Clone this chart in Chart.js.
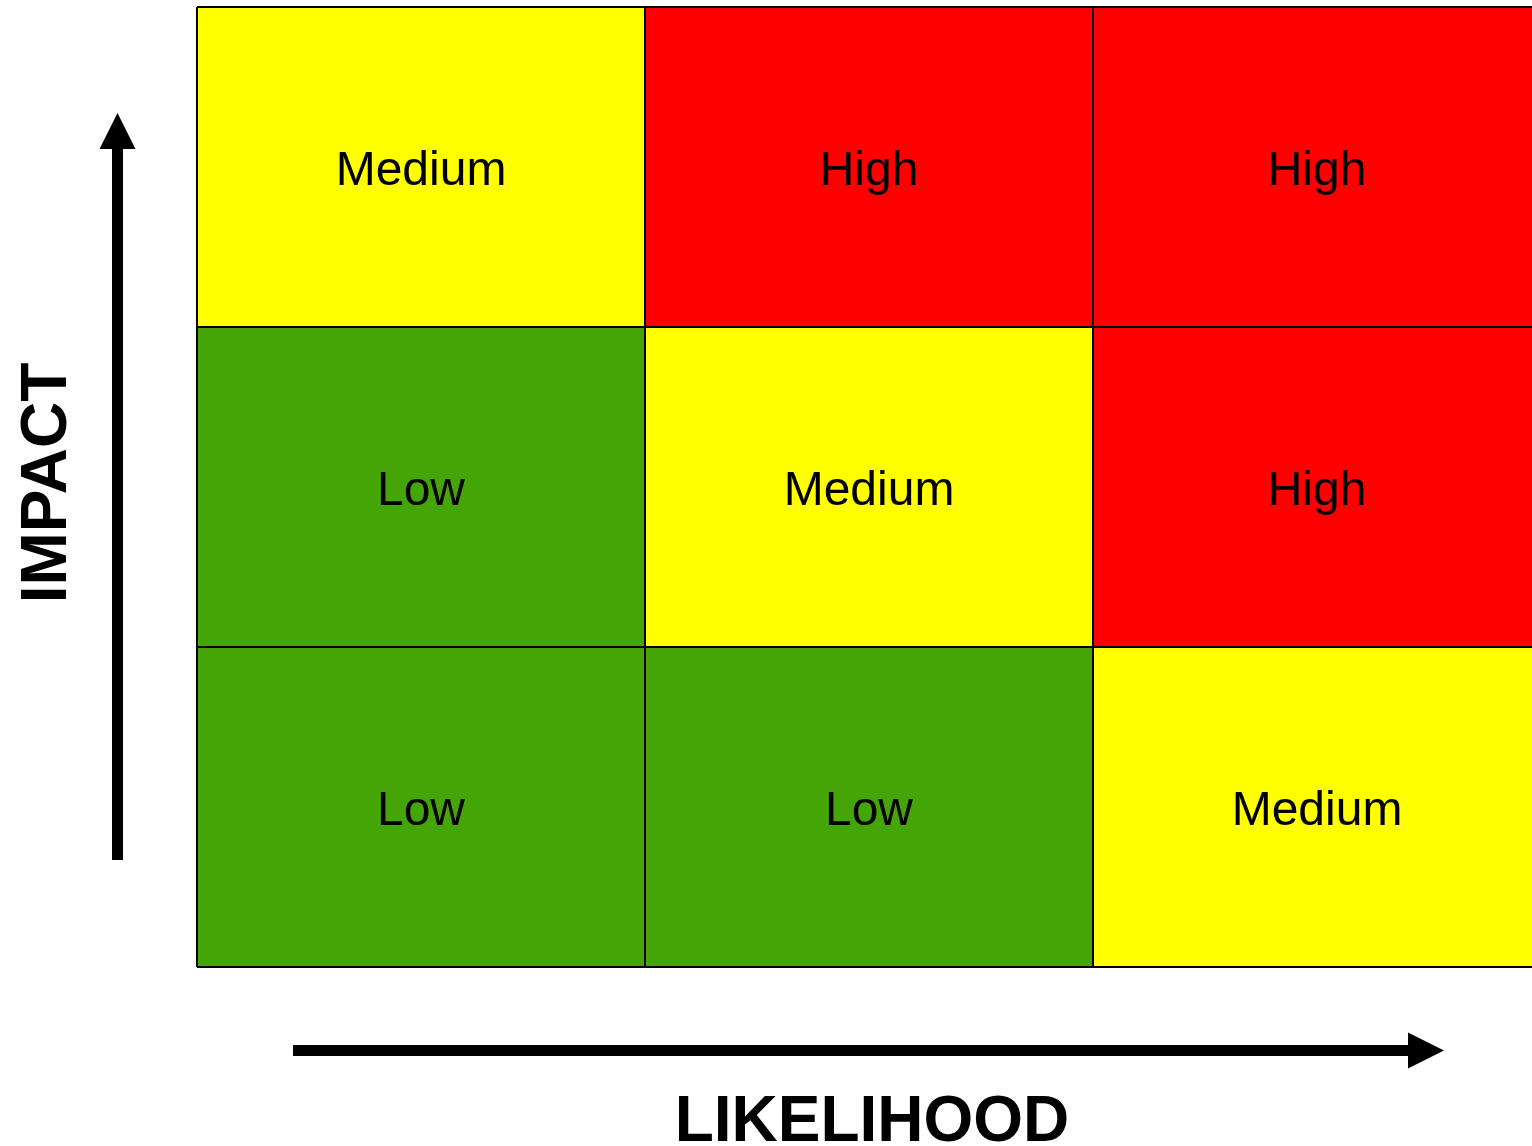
<!DOCTYPE html>
<html>
<head>
<meta charset="utf-8">
<script src="https://cdn.jsdelivr.net/npm/chart.js@4"></script>
<style>
  html, body { margin: 0; padding: 0; background: #fff; overflow: hidden; }
  #wrap { width: 1545px; height: 1146px; }
</style>
</head>
<body>
<div id="wrap"><canvas id="riskChart" width="1545" height="1146"></canvas></div>
<script>
// 矩陣資料
const likelihood = ['Low', 'Medium', 'High'];
const rowBottom = ['Low', 'Low', 'Medium'];
const rowMiddle = ['Low', 'Medium', 'High'];
const rowTop = ['Medium', 'High', 'High'];
const cellSize = [1, 1, 1];

const levelColors = { Low: '#45a507', Medium: '#ffff00', High: '#ff0000' };

// 格子文字
const cellLabels = {
    id: 'cellLabels',
    afterDraw(chart) {
        const ctx = chart.ctx;
        ctx.save();
        ctx.fillStyle = '#000';
        ctx.font = '48px "Liberation Sans", Arial, sans-serif';
        ctx.textAlign = 'center';
        ctx.textBaseline = 'middle';
        chart.data.datasets.forEach((ds, i) => {
            chart.getDatasetMeta(i).data.forEach((bar, j) => {
                ctx.fillText(ds.labels[j], bar.x, (bar.y + bar.base) / 2 + 5);
            });
        });
        ctx.restore();
    }
};

// 箭頭和軸標題
const axisArrows = {
    id: 'axisArrows',
    afterDraw(chart) {
        const ctx = chart.ctx;
        const area = chart.chartArea;
        ctx.save();
        ctx.fillStyle = '#000';

        // 垂直箭頭
        const vx = area.left - 79.5;
        ctx.fillRect(vx - 5.5, area.top + 141, 11, area.bottom - 107 - (area.top + 141));
        ctx.beginPath();
        ctx.moveTo(vx, area.top + 106);
        ctx.lineTo(vx + 18, area.top + 142);
        ctx.lineTo(vx - 18, area.top + 142);
        ctx.closePath();
        ctx.fill();

        // 水平箭頭
        const hy = area.bottom + 83.5;
        ctx.fillRect(293, hy - 5.5, 1410 - 293, 11);
        ctx.beginPath();
        ctx.moveTo(1444, hy);
        ctx.lineTo(1408, hy - 18);
        ctx.lineTo(1408, hy + 18);
        ctx.closePath();
        ctx.fill();

        ctx.font = 'bold 64px "Liberation Sans", Arial, sans-serif';
        ctx.textAlign = 'center';
        ctx.textBaseline = 'alphabetic';
        ctx.fillText('LIKELIHOOD', (area.left + area.right) / 2 + 3, 1141);

        ctx.translate(66, (area.top + area.bottom) / 2 - 4);
        ctx.rotate(-Math.PI / 2);
        ctx.fillText('IMPACT', 0, 0);
        ctx.restore();
    }
};

function makeRow(labels) {
    return {
        data: cellSize,
        labels: labels,
        backgroundColor: labels.map(l => levelColors[l]),
        borderWidth: 0,
        barPercentage: 1,
        categoryPercentage: 1
    };
}

const ctx = document.getElementById('riskChart').getContext('2d');
new Chart(ctx, {
    type: 'bar',
    data: {
        labels: likelihood,
        datasets: [makeRow(rowBottom), makeRow(rowMiddle), makeRow(rowTop)]
    },
    options: {
        responsive: false,
        animation: false,
        layout: { padding: { left: 197, top: 7, right: 4, bottom: 179 } },
        plugins: { legend: { display: false }, tooltip: { enabled: false } },
        scales: {
            x: {
                stacked: true,
                grid: { offset: true, color: '#000', lineWidth: 2, drawTicks: false, z: 1 },
                border: { display: false },
                ticks: { display: false }
            },
            y: {
                stacked: true,
                min: 0,
                max: 3,
                grid: { color: '#000', lineWidth: 2, drawTicks: false, z: 1 },
                border: { display: false },
                ticks: { display: false, stepSize: 1 }
            }
        }
    },
    plugins: [cellLabels, axisArrows]
});
</script>
</body>
</html>
